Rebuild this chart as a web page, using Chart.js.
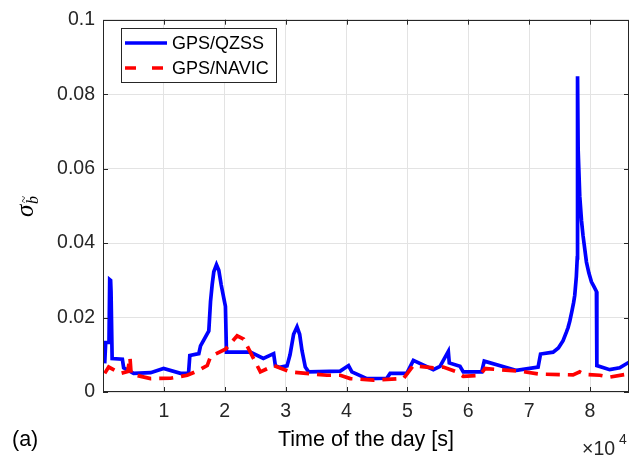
<!DOCTYPE html>
<html>
<head>
<meta charset="utf-8">
<script src="https://cdn.jsdelivr.net/npm/chart.js@4.4.1/dist/chart.umd.min.js"></script>
<style>
  html, body { margin: 0; padding: 0; background: #ffffff; }
  #wrap { width: 641px; height: 464px; position: relative; }
</style>
</head>
<body>
<div id="wrap"><canvas id="c" width="641" height="464"></canvas></div>
<script>
// ---- data ----
const seriesNames = ['GPS/QZSS', 'GPS/NAVIC'];

const timeQZSS = [280, 443, 984, 1100, 1250, 1320, 1500, 3180, 3393, 5033, 7820, 9950, 12740, 14050, 14260,
  15740, 16020, 17380, 17660, 17930, 18200, 18640, 19020, 19410, 19840, 20110, 20280, 24210, 26340, 28030, 28310,
  29000, 30230, 30720, 31310, 31870, 32300, 32690, 33230, 33770,
  38970, 40330, 40880, 43340, 46620, 47160, 49900, 50980, 54260, 55360, 56720, 56880, 58640, 59180,
  62200, 62620, 67930, 71470, 71870, 73930, 74800, 75570, 76100, 76390, 76670, 77000, 77300, 77490,
  77750, 77900, 77950, 78050, 78310, 78600, 78850, 79410, 79800, 80230, 80650, 81050, 81120, 83230,
  84870, 86400];
const sigmaQZSS = [0.0077, 0.0133, 0.0133, 0.0302, 0.0300, 0.0270, 0.0090, 0.0088, 0.0065, 0.0050, 0.0052, 0.0063, 0.0050, 0.0050, 0.0098,
  0.0103, 0.0124, 0.0164, 0.0243, 0.0288, 0.0323, 0.0342, 0.0327, 0.0288, 0.0252, 0.0230, 0.0107, 0.0107, 0.0090, 0.0103, 0.0071,
  0.0066, 0.0070, 0.0100, 0.0155, 0.0175, 0.0155, 0.0111, 0.0067, 0.0054,
  0.0056, 0.0071, 0.0054, 0.0036, 0.0037, 0.0050, 0.0050, 0.0085, 0.0060, 0.0069, 0.0109, 0.0078, 0.0069, 0.0054,
  0.0054, 0.0083, 0.0058, 0.0067, 0.0102, 0.0107, 0.0118, 0.0138, 0.0160, 0.0173, 0.0190, 0.0215, 0.0240, 0.0260,
  0.0310, 0.0360, 0.0848, 0.0650, 0.0526, 0.0460, 0.0420, 0.0349, 0.0320, 0.0296, 0.0283, 0.0270, 0.0071, 0.0060,
  0.0065, 0.0080];

const timeNAVIC = [280, 934, 2900, 4050, 4430, 4620, 7820, 11100, 13840, 15690, 17120, 17660, 20110, 22030, 23110,
  25850, 28030, 30770, 36790, 38970, 40610, 44430, 49340, 50980, 54260, 55900, 58090, 59180, 61920, 62740,
  68470, 71750, 77210, 78310, 79130, 81590, 83230, 86400];
const sigmaNAVIC = [0.0050, 0.0067, 0.0050, 0.0055, 0.0093, 0.0048, 0.0036, 0.0037, 0.0045, 0.0058, 0.0071, 0.0095, 0.0115, 0.0151, 0.0142,
  0.0054, 0.0071, 0.0054, 0.0045, 0.0045, 0.0036, 0.0032, 0.0036, 0.0071, 0.0065, 0.0067, 0.0054, 0.0042, 0.0045, 0.0063,
  0.0056, 0.0048, 0.0046, 0.0054, 0.0047, 0.0045, 0.0040, 0.0049];

const xTickValues = [10000, 20000, 30000, 40000, 50000, 60000, 70000, 80000];
const xTickLabels = ['1', '2', '3', '4', '5', '6', '7', '8'];
const yTickValues = [0, 0.02, 0.04, 0.06, 0.08, 0.1];
const yTickLabels = ['0', '0.02', '0.04', '0.06', '0.08', '0.1'];
const xTitle = 'Time of the day [s]';
const panelLabel = '(a)';

// ---- styles ----
const AXIS = '#262626';
const GRID = '#e3e3e3';
const SANS = '"Liberation Sans", Arial, Helvetica, sans-serif';
const SERIF = '"Liberation Serif", "Times New Roman", serif';

const toPts = (xs, ys) => xs.map((x, i) => ({ x: x, y: ys[i] }));

const decor = {
  id: 'decor',
  afterDraw(chart) {
    const ctx = chart.ctx;
    const a = chart.chartArea;
    const xs = chart.scales.x, ys = chart.scales.y;
    ctx.save();
    // frame
    ctx.strokeStyle = AXIS;
    ctx.lineWidth = 1;
    ctx.strokeRect(Math.round(a.left) + 0.5, Math.round(a.top) + 0.5,
                   Math.round(a.right - a.left) - 1, Math.round(a.bottom - a.top) - 1);
    // inward ticks
    ctx.beginPath();
    xTickValues.forEach(v => {
      const px = Math.round(xs.getPixelForValue(v)) + 0.5;
      ctx.moveTo(px, a.bottom); ctx.lineTo(px, a.bottom - 5);
      ctx.moveTo(px, a.top); ctx.lineTo(px, a.top + 5);
    });
    yTickValues.forEach(v => {
      const py = Math.round(ys.getPixelForValue(v)) + 0.5;
      ctx.moveTo(a.left, py); ctx.lineTo(a.left + 5, py);
      ctx.moveTo(a.right, py); ctx.lineTo(a.right - 5, py);
    });
    ctx.stroke();

    // legend
    const lx = 121.5, ly = 28.5, lw = 155, lh = 54;
    ctx.fillStyle = '#ffffff';
    ctx.fillRect(lx, ly, lw, lh);
    ctx.strokeStyle = AXIS;
    ctx.lineWidth = 1;
    ctx.strokeRect(lx, ly, lw, lh);
    const ds = chart.data.datasets;
    const rows = [43, 68];
    [0, 1].forEach(i => {
      const d = ds.find(s => s.label === seriesNames[i]);
      ctx.beginPath();
      ctx.strokeStyle = d.borderColor;
      ctx.lineWidth = d.borderWidth;
      ctx.setLineDash(i === 1 ? [11, 16] : []);
      ctx.moveTo(125, rows[i]); ctx.lineTo(167, rows[i]);
      ctx.stroke();
      ctx.setLineDash([]);
      ctx.fillStyle = '#000000';
      ctx.font = '18px ' + SANS;
      ctx.textBaseline = 'middle';
      ctx.textAlign = 'left';
      ctx.fillText(seriesNames[i], 172, rows[i] + 1);
    });

    // x-axis title
    ctx.fillStyle = '#000000';
    ctx.font = '21.5px ' + SANS;
    ctx.textAlign = 'center';
    ctx.textBaseline = 'alphabetic';
    ctx.fillText(xTitle, (a.left + a.right) / 2, 446);
    // panel label
    ctx.textAlign = 'left';
    ctx.fillText(panelLabel, 12, 446);
    // exponent
    ctx.fillStyle = AXIS;
    ctx.font = '19.5px ' + SANS;
    ctx.fillText('\u00d710', 582, 455);
    ctx.font = '14px ' + SANS;
    ctx.fillText('4', 619, 444);

    // y-axis label: sigma with subscript b-tilde (rotated)
    ctx.translate(28, 206);
    ctx.rotate(-Math.PI / 2);
    ctx.fillStyle = '#000000';
    ctx.textAlign = 'left';
    ctx.font = 'italic 25px ' + SERIF;
    ctx.fillText('\u03c3', -11, 5);
    ctx.font = 'italic 16px ' + SERIF;
    ctx.fillText('b', 2, 10);
    ctx.font = '13px ' + SERIF;
    ctx.fillText('~', 3, 0);
    ctx.restore();
  }
};

new Chart(document.getElementById('c'), {
  type: 'line',
  data: {
    datasets: [
      {
        label: seriesNames[0],
        data: toPts(timeQZSS, sigmaQZSS),
        borderColor: '#0000ff',
        borderWidth: 3.7,
        pointRadius: 0,
        tension: 0,
        fill: false,
        order: 1
      },
      {
        label: seriesNames[1],
        data: toPts(timeNAVIC, sigmaNAVIC),
        borderColor: '#ff0000',
        borderWidth: 3.7,
        borderDash: [14, 8],
        pointRadius: 0,
        tension: 0,
        fill: false,
        order: 0
      }
    ]
  },
  options: {
    responsive: false,
    animation: false,
    devicePixelRatio: 1,
    layout: { padding: { left: 0, right: 12, top: 15, bottom: 0 } },
    plugins: { legend: { display: false }, tooltip: { enabled: false } },
    scales: {
      x: {
        type: 'linear',
        min: 0,
        max: 86400,
        afterBuildTicks: s => { s.ticks = xTickValues.map(v => ({ value: v })); },
        afterFit: s => { s.height = 72; },
        border: { display: false },
        grid: { color: GRID, lineWidth: 1, drawTicks: false },
        ticks: {
          autoSkip: false, maxRotation: 0, padding: 8,
          color: AXIS,
          font: { family: SANS, size: 19.5 },
          callback: (v) => xTickLabels[xTickValues.indexOf(v)]
        }
      },
      y: {
        type: 'linear',
        min: 0,
        max: 0.1,
        afterBuildTicks: s => { s.ticks = yTickValues.map(v => ({ value: v })); },
        afterFit: s => { s.width = 103; },
        border: { display: false },
        grid: { color: GRID, lineWidth: 1, drawTicks: false },
        ticks: {
          autoSkip: false, padding: 8,
          color: AXIS,
          font: { family: SANS, size: 19.5 },
          callback: (v) => yTickLabels[yTickValues.indexOf(v)]
        }
      }
    }
  },
  plugins: [decor]
});
</script>
</body>
</html>
